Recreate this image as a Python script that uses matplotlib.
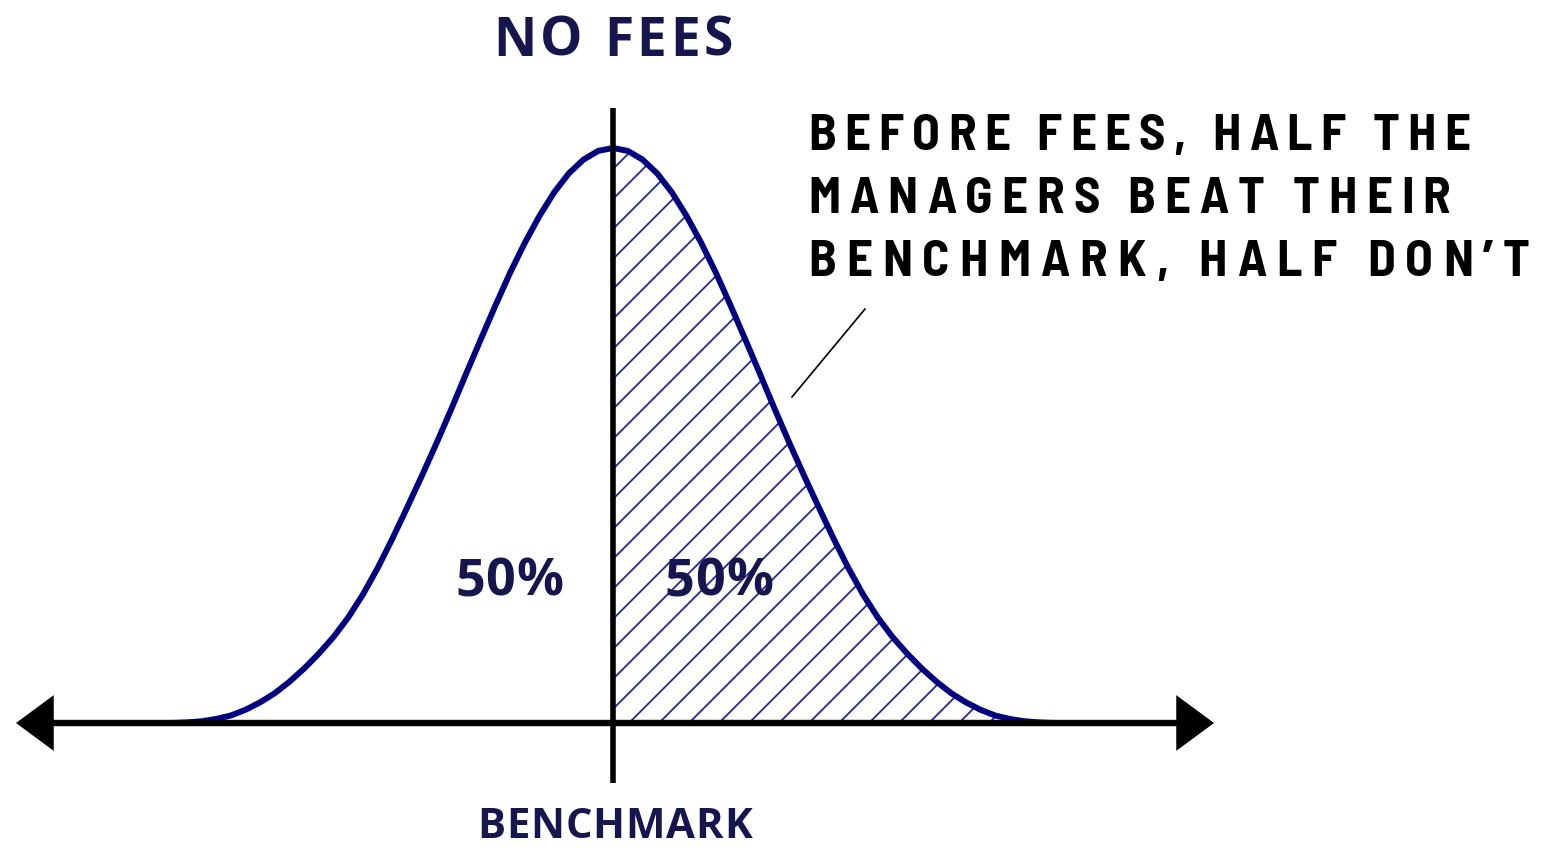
import numpy as np
import matplotlib
matplotlib.use("Agg")
import matplotlib.pyplot as plt
from matplotlib import font_manager
from matplotlib.patches import FancyArrowPatch
from matplotlib.transforms import IdentityTransform

# ---- data (curve height relative to peak, x in std-devs) ----
curve_x = np.round(np.arange(-3.1, 3.11, 0.1), 1)
curve_y = [0.000, 0.000, 0.001, 0.003, 0.007, 0.013, 0.023, 0.036, 0.052, 0.072,
           0.095, 0.121, 0.150, 0.184, 0.224, 0.270, 0.321, 0.375, 0.430, 0.487,
           0.546, 0.607, 0.667, 0.726, 0.783, 0.835, 0.882, 0.923, 0.956, 0.980,
           0.995, 1.000, 0.995, 0.980, 0.956, 0.923, 0.882, 0.835, 0.783, 0.726,
           0.667, 0.607, 0.546, 0.487, 0.430, 0.375, 0.321, 0.270, 0.224, 0.184,
           0.150, 0.121, 0.095, 0.072, 0.052, 0.036, 0.023, 0.013, 0.007, 0.003,
           0.001, 0.000, 0.000]
benchmark = 0.0
title = "NO FEES"
xlabel = "BENCHMARK"
share_labels = ["50%", "50%"]
note_lines = ["BEFORE FEES, HALF THE", "MANAGERS BEAT THEIR", "BENCHMARK, HALF DON\u2019T"]

# ---- layout ----
W, H = 1541, 848
PX_X = 147.0   # pixels per std-dev
PX_Y = 575.0   # pixels per unit height
X0, Y0 = 613.0, 723.0

NAVY = "#000080"
HATCH = "#24249c"
TEXT_NAVY = "#16164e"

fig = plt.figure(figsize=(W / 100, H / 100), dpi=100)
ax = fig.add_axes([0, 0, 1, 1])
ax.set_xlim(-X0 / PX_X, (W - X0) / PX_X)
ax.set_ylim(-(H - Y0) / PX_Y, Y0 / PX_Y)
ax.axis("off")

cx = np.asarray(curve_x)
cy = np.asarray(curve_y)

# shaded right half (hatched by clipped diagonal lines)
mask = cx >= benchmark
poly = ax.fill_between(cx[mask], cy[mask], 0, facecolor="none", edgecolor="none")
clip_path = poly.get_paths()[0]
step = 30.0 / PX_X
slope = PX_X / PX_Y
for c in np.arange(-1.932 - 30 * step, 4.5, step):
    ln, = ax.plot([c, c + 6], [0, 6 * slope], color=HATCH, lw=1.3, zorder=2,
                  solid_capstyle="butt")
    ln.set_clip_path(clip_path, ax.transData)

# curve
ax.plot(cx, cy, color=NAVY, lw=4.3, zorder=3, solid_capstyle="round",
        solid_joinstyle="round")

# benchmark vertical line
ax.plot([benchmark, benchmark], [(Y0 - 108) / PX_Y, -(783 - Y0) / PX_Y],
        color="black", lw=4.0, zorder=4, solid_capstyle="butt")

# horizontal double arrow
arr = FancyArrowPatch(((16 - X0) / PX_X, 0), ((1214 - X0) / PX_X, 0),
                      arrowstyle="<|-|>,head_length=21,head_width=15.5",
                      mutation_scale=1, lw=4.6, color="black", zorder=5,
                      shrinkA=0, shrinkB=0, joinstyle="miter", capstyle="butt")
ax.add_patch(arr)

# annotation leader line
ax.plot([(865 - X0) / PX_X, (792 - X0) / PX_X],
        [(Y0 - 309) / PX_Y, (Y0 - 397) / PX_Y], color="black", lw=1.2, zorder=5)

# ---- letter-spaced text helper (pixel coordinates, y from top) ----
renderer = fig.canvas.get_renderer()


def _width(s, **kw):
    t = fig.text(0, 0, s, **kw)
    w = t.get_window_extent(renderer).width
    t.remove()
    return w


def tracked(s, x_left, x_right, baseline, size, color, family):
    kw = dict(fontsize=size, fontweight="bold", family=family)
    base = _width("||", **kw)
    adv = [_width("|" + ch + "|", **kw) - base for ch in s]
    ink_last = _width(s[-1], **kw)
    natural = sum(adv[:-1]) + ink_last
    track = (x_right - x_left - natural) / max(len(s) - 1, 1)
    x = x_left
    for ch, a in zip(s, adv):
        fig.text(x, H - baseline, ch, transform=IdentityTransform(), ha="left",
                 va="baseline", color=color, **kw)
        x += a + track


OPEN = ["Open Sans", "DejaVu Sans"]

# look for an installed semi-condensed / narrow face for the callout
names = sorted({f.name for f in font_manager.fontManager.ttflist})
pref = ([n for n in names if "SemiCondensed" in n.replace(" ", "") and "Open" in n] +
        [n for n in names if "SemiCondensed" in n.replace(" ", "")] +
        [n for n in names if "Narrow" in n] +
        [n for n in names if "Condensed" in n and "Extra" not in n] +
        [n for n in names if "Condensed" in n])
if pref:
    NARROW = [pref[0], "Open Sans", "DejaVu Sans"]
    note_size = 36.6
else:
    NARROW = ["Open Sans", "DejaVu Sans"]
    note_size = 35.5

tracked(title, 493, 733, 56, 38.3, TEXT_NAVY, OPEN)
tracked(xlabel, 477, 752, 838, 30.2, TEXT_NAVY, OPEN)
tracked(share_labels[0], 455, 563, 596, 37.5, TEXT_NAVY, OPEN)
tracked(share_labels[1], 664, 773, 596, 37.5, TEXT_NAVY, OPEN)

note_right = [1470, 1450, 1530]
note_base = [150, 213, 276]
for line, xr, yb in zip(note_lines, note_right, note_base):
    tracked(line, 808, xr, yb, note_size, "black", NARROW)

fig.savefig("out.png", dpi=100, facecolor="white")
